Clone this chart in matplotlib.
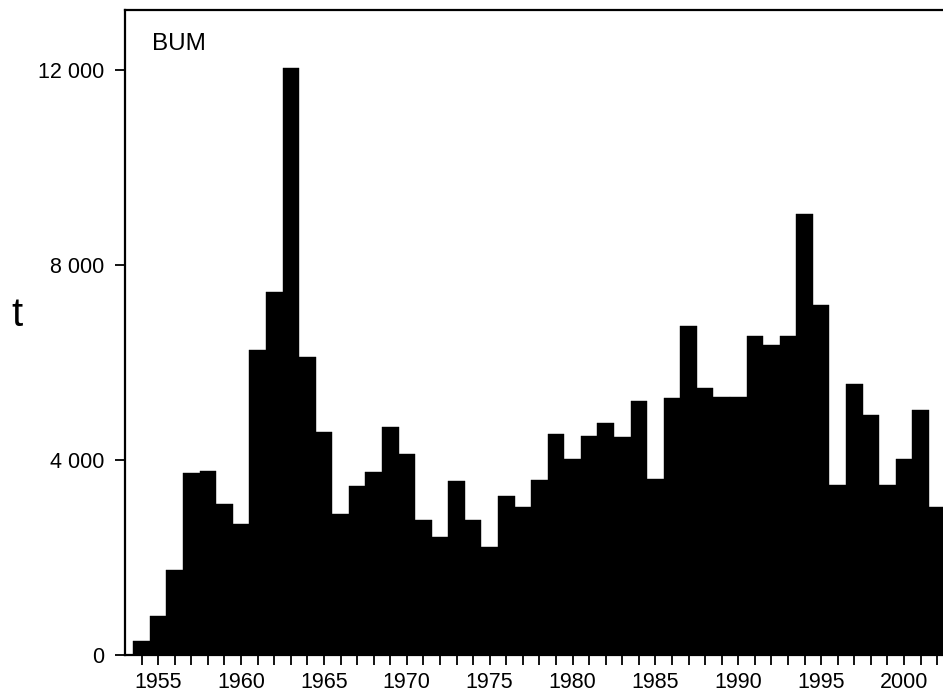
import matplotlib
matplotlib.use('Agg')
from matplotlib import pyplot as plt
from matplotlib.ticker import FuncFormatter

plt.rcParams['font.family'] = ['Liberation Sans', 'DejaVu Sans']

# 年份与渔获量 (t)
years = list(range(1954, 2003))
catch = [290, 800, 1740, 3730, 3770, 3100, 2690, 6260, 7450, 12050,
         6120, 4570, 2900, 3460, 3760, 4680, 4130, 2760, 2430, 3560,
         2760, 2210, 3260, 3040, 3580, 4540, 4030, 4490, 4760, 4470,
         5210, 3620, 5270, 6750, 5470, 5290, 5300, 6540, 6350, 6540,
         9050, 7170, 3490, 5550, 4930, 3480, 4030, 5030, 3040]
y_ticks = [0, 4000, 8000, 12000]
species = 'BUM'
unit = 't'

fig = plt.figure(figsize=(9.43, 6.98), dpi=100)
ax = fig.add_axes([0.1326, 0.0616, 0.8674, 0.9241])

ax.bar(years, catch, width=1.0, color='black', edgecolor='black', linewidth=0.3)

ax.set_xlim(1953.0, 2002.35)
ax.set_ylim(0, 13230)

# x轴: 每年一个刻度, 每五年一个标签
ax.set_xticks(years)
ax.set_xticklabels([str(y) if y % 5 == 0 else '' for y in years])
ax.set_yticks(y_ticks)
ax.yaxis.set_major_formatter(FuncFormatter(lambda v, p: '{:,}'.format(int(v)).replace(',', ' ')))

ax.tick_params(axis='x', direction='out', length=7, width=1.3, labelsize=15.5, pad=5)
ax.tick_params(axis='y', direction='out', length=7, width=1.3, labelsize=15.5, pad=8)

for s in ['left', 'top', 'bottom']:
    ax.spines[s].set_linewidth(1.6)
ax.spines['right'].set_visible(False)

ax.text(0.033, 0.965, species, transform=ax.transAxes, fontsize=17.5, va='top', ha='left')
fig.text(0.018, 0.548, unit, fontsize=29, va='center', ha='center')

plt.savefig('out.png', dpi=100)
